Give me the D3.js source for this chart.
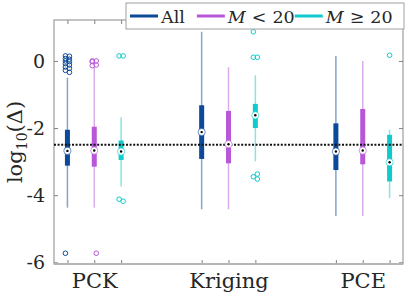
<!DOCTYPE html>
<html>
<head>
<meta charset="utf-8">
<script src="https://d3js.org/d3.v7.min.js"></script>
<style>
  body { margin: 0; background: #fff; }
  .tick line { stroke: #808080; }
  .domain { stroke: none; }
</style>
</head>
<body>
<div id="chart"></div>
<script>
// groups on the x axis and the three series
var groups = ["PCK", "Kriging", "PCE"];
var seriesNames = ["All", "M < 20", "M \u2265 20"];
var seriesColors = ["#0b4a9a", "#b858d9", "#10cbcb"];
var yTicks = [0, -2, -4, -6];
var threshold = -2.5;

// box statistics: one row per series, one value per group
var q1       = [[-3.12, -2.92, -3.25], [-3.15, -3.05, -3.08], [-2.95, -2.00, -3.59]];
var medians  = [[-2.68, -2.12, -2.70], [-2.67, -2.48, -2.67], [-2.70, -1.62, -3.02]];
var q3       = [[-2.05, -1.32, -1.86], [-1.96, -1.49, -1.43], [-2.37, -1.28, -2.20]];
var whiskLo  = [[-4.37, -4.42, -4.62], [-4.37, -4.42, -4.62], [-3.74, -2.99, -4.09]];
var whiskHi  = [[-0.50,  0.87,  0.15], [-0.18, -0.19,  0.00], [-1.68, -0.43, -2.05]];

// outliers
var outAll  = [[0.15, 0.14, 0.07, 0.05, 0.0, -0.02, -0.08, -0.12, -0.18, -0.22, -0.28, -0.34, -5.73], [], []];
var outLow  = [[0.0, 0.0, -0.02, -0.12, -0.14, -5.73], [], []];
var outHigh = [[0.15, 0.15, -4.12, -4.18], [0.87, 0.11, 0.11, -3.37, -3.45, -3.52], [0.17]];
var outliers = [outAll, outLow, outHigh];

var W = 407, H = 297;
var plot = {left: 54, right: 403, top: 20, bottom: 264};
var offsets = [-0.2, 0, 0.2];
var serif = "DejaVu Serif";

var svg = d3.select("#chart").append("svg")
  .attr("width", W).attr("height", H);

var x = d3.scaleLinear().domain([0.7, 3.3]).range([plot.left, plot.right]);
var y = d3.scaleLinear().domain([-6.05, 1.22]).range([plot.bottom, plot.top]);

var positions = [];
groups.forEach(function(g, gi) {
  offsets.forEach(function(o) { positions.push(gi + 1 + o); });
});

// axes box
svg.append("rect")
  .attr("x", plot.left).attr("y", plot.top)
  .attr("width", plot.right - plot.left).attr("height", plot.bottom - plot.top)
  .attr("fill", "none").attr("stroke", "#8a8a8a").attr("stroke-width", 1);

// ticks (inward) on all four sides
svg.append("g").attr("transform", "translate(" + plot.left + ",0)")
  .call(d3.axisLeft(y).tickValues(yTicks).tickSize(-4).tickPadding(9).tickFormat(d => d === 0 ? "0" : "-" + Math.abs(d)))
  .call(g => g.selectAll("text").attr("font-family", serif).style("font-size", "19px").attr("fill", "#262626"));
svg.append("g").attr("transform", "translate(" + plot.right + ",0)")
  .call(d3.axisRight(y).tickValues(yTicks).tickSize(-4).tickFormat(""));
svg.append("g").attr("transform", "translate(0," + plot.bottom + ")")
  .call(d3.axisBottom(x).tickValues(positions).tickSize(-4).tickFormat(""));
svg.append("g").attr("transform", "translate(0," + plot.top + ")")
  .call(d3.axisTop(x).tickValues(positions).tickSize(-4).tickFormat(""));
svg.append("g").attr("transform", "translate(0," + plot.bottom + ")")
  .call(d3.axisBottom(x).tickValues([1, 2, 3]).tickSize(0).tickPadding(9).tickFormat((d, i) => groups[i]))
  .call(g => g.selectAll("text").attr("font-family", serif).style("font-size", "21px").attr("fill", "#262626"));

// bottom axis line a bit heavier
svg.append("line")
  .attr("x1", plot.left).attr("x2", plot.right)
  .attr("y1", plot.bottom).attr("y2", plot.bottom)
  .attr("stroke", "#b4b4b4").attr("stroke-width", 2);

// boxes
seriesNames.forEach(function(s, si) {
  var c = seriesColors[si];
  var g = svg.append("g");
  groups.forEach(function(grp, gi) {
    var cx = x(gi + 1 + offsets[si]);
    g.append("line")
      .attr("x1", cx).attr("x2", cx)
      .attr("y1", y(whiskLo[si][gi])).attr("y2", y(whiskHi[si][gi]))
      .attr("stroke", c).attr("stroke-opacity", 0.5).attr("stroke-width", 1.5);
    g.append("rect")
      .attr("x", cx - 2.5).attr("width", 5)
      .attr("y", y(q3[si][gi])).attr("height", y(q1[si][gi]) - y(q3[si][gi]))
      .attr("fill", c);
    outliers[si][gi].forEach(function(v, k) {
      var jit = outliers[si][gi].length > 1 ? (k % 2 ? 2 : -2) : 0;
      g.append("circle")
        .attr("cx", cx + jit).attr("cy", y(v)).attr("r", 2.3)
        .attr("fill", "none").attr("stroke", c).attr("stroke-width", 1);
    });
  });
});

// threshold line
svg.append("line")
  .attr("x1", plot.left).attr("x2", plot.right)
  .attr("y1", y(threshold)).attr("y2", y(threshold))
  .attr("stroke", "#111").attr("stroke-width", 2).attr("stroke-dasharray", "2,1.6");

// median markers
seriesNames.forEach(function(s, si) {
  groups.forEach(function(grp, gi) {
    var cx = x(gi + 1 + offsets[si]), cy = y(medians[si][gi]);
    svg.append("circle").attr("cx", cx).attr("cy", cy).attr("r", 3.6)
      .attr("fill", "#fff").attr("stroke", seriesColors[si]).attr("stroke-opacity", 0.6).attr("stroke-width", 1);
    svg.append("circle").attr("cx", cx).attr("cy", cy).attr("r", 1.2).attr("fill", "#000");
  });
});

// y label
var yl = svg.append("text")
  .attr("transform", "translate(22," + ((plot.top + plot.bottom) / 2) + ") rotate(-90)")
  .attr("text-anchor", "middle")
  .attr("font-family", serif)
  .attr("fill", "#262626")
  .style("font-size", "21px");
yl.append("tspan").text("log");
yl.append("tspan").attr("dy", 5).style("font-size", "14px").text("10");
yl.append("tspan").attr("dy", -5).text("(\u0394)");

// legend
var leg = svg.append("g").attr("font-family", serif).attr("fill", "#262626");
leg.append("rect")
  .attr("x", 126).attr("y", 3).attr("width", 278).attr("height", 26)
  .attr("fill", "#fff").attr("stroke", "#a0a0a0").attr("stroke-width", 1);
var lx = 130;
seriesNames.forEach(function(s, si) {
  leg.append("line")
    .attr("x1", lx).attr("x2", lx + 28).attr("y1", 16).attr("y2", 16)
    .attr("stroke", seriesColors[si]).attr("stroke-width", 3);
  var t = leg.append("text").attr("x", lx + 31).attr("y", 22.5).style("font-size", "17.5px");
  if (si === 0) {
    t.text(s);
  } else {
    var parts = s.split(" ");
    t.append("tspan").style("font-style", "italic").text(parts[0]);
    t.append("tspan").attr("dx", 6).text(parts[1]);
    t.append("tspan").attr("dx", 6).text(parts[2]);
  }
  lx = lx + 31 + t.node().getComputedTextLength() + 12;
});
</script>
</body>
</html>
